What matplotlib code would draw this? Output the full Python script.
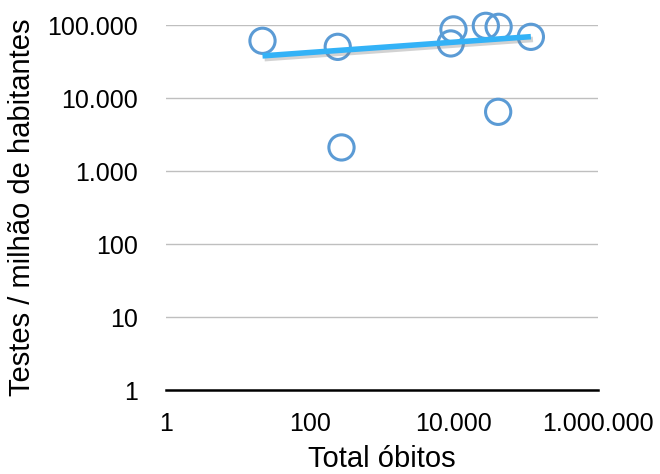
import matplotlib
matplotlib.use("Agg")
import matplotlib.pyplot as plt
import matplotlib.patheffects as pe
from matplotlib.ticker import FixedLocator, FuncFormatter

# Data
total_obitos = [21.9, 243, 274, 9840, 9020, 27700, 41700, 41100, 117000]
testes_por_milhao = [61000, 50400, 2110, 87300, 56100, 97800, 94800, 6490, 69100]
# trendline (power trend) as drawn in the picture
trend_x = [21.9, 117000]
trend_y = [37900, 69500]

x_ticks = [1, 100, 10000, 1000000]
y_ticks = [1, 10, 100, 1000, 10000, 100000]

def fmt(v, pos=None):
    return f"{int(round(v)):,}".replace(",", ".")

plt.rcParams['font.family'] = ['Liberation Sans', 'DejaVu Sans']

fig = plt.figure(figsize=(6.6, 4.74), dpi=100)
ax = fig.add_axes([0.2515, 0.177, 0.6545, 0.770])
ax.set_xscale('log')
ax.set_yscale('log')
ax.set_xlim(1, 1000000)
ax.set_ylim(1, 100000)

ax.xaxis.set_major_locator(FixedLocator(x_ticks))
ax.yaxis.set_major_locator(FixedLocator(y_ticks))
ax.xaxis.set_minor_locator(FixedLocator([]))
ax.yaxis.set_minor_locator(FixedLocator([]))
ax.xaxis.set_major_formatter(FuncFormatter(fmt))
ax.yaxis.set_major_formatter(FuncFormatter(fmt))

ax.grid(axis='y', color='#bfbfbf', linewidth=1.0)
ax.set_axisbelow(True)
for s in ['top', 'right', 'left']:
    ax.spines[s].set_visible(False)
ax.spines['bottom'].set_color('black')
ax.spines['bottom'].set_linewidth(1.8)
ax.tick_params(axis='both', length=0, labelsize=18, colors='black')
ax.tick_params(axis='x', pad=16)
ax.tick_params(axis='y', pad=20)

ax.scatter(total_obitos, testes_por_milhao, s=330, facecolors='none',
           edgecolors='#5b9bd5', linewidths=2.2, zorder=3, clip_on=False)

ax.plot(trend_x, trend_y, color='#33b2f7', linewidth=4, zorder=4,
        solid_capstyle='butt', clip_on=False,
        path_effects=[pe.SimpleLineShadow(offset=(1.5, -2.0), shadow_color='#808080', alpha=0.35),
                      pe.Normal()])

ax.set_xlabel('Total óbitos', fontsize=21, va='baseline')
ax.xaxis.set_label_coords(0.5, -0.211)
ax.set_ylabel('Testes / milhão de habitantes', fontsize=21, va='center')
ax.yaxis.set_label_coords(-0.333, 0.5)

fig.savefig('out.png', dpi=100)
